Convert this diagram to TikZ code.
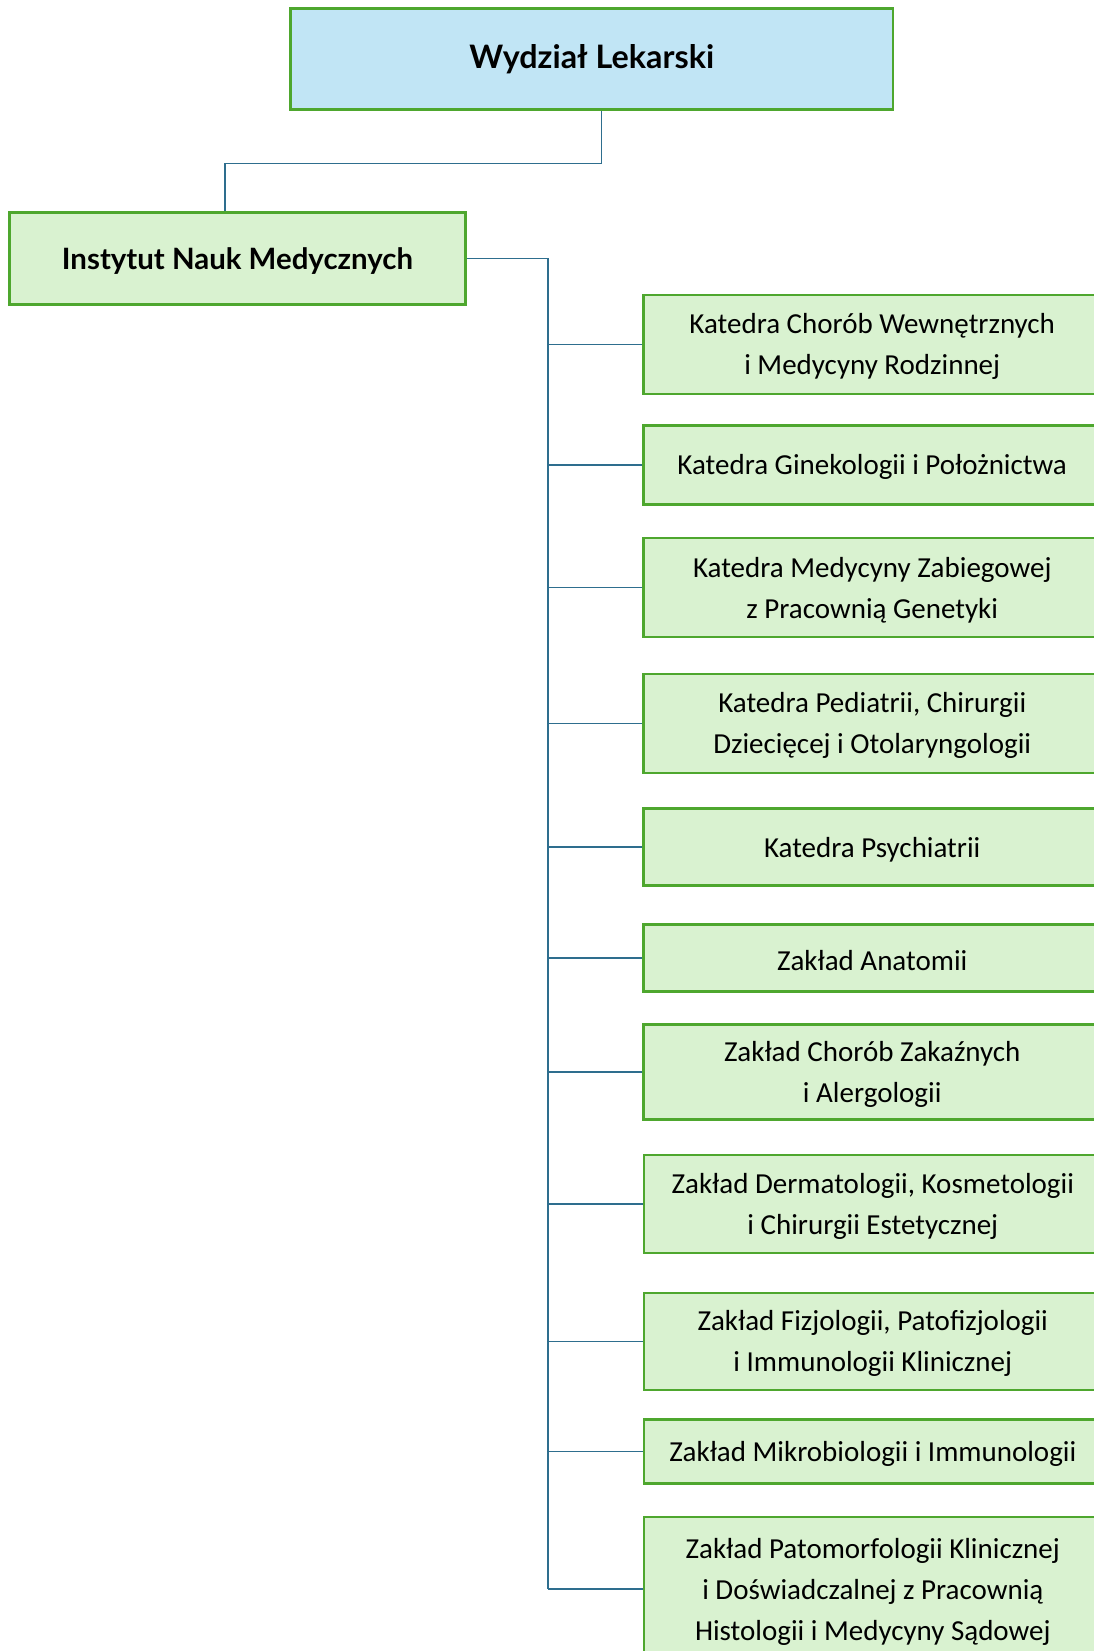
\documentclass[tikz,border=0pt]{standalone}
\usepackage{fontspec}
\setmainfont{Carlito}
\newfontfamily\headfont{Lato}
\definecolor{boxgreen}{HTML}{D9F2D0}
\definecolor{edgegreen}{HTML}{4EA72E}
\definecolor{headblue}{HTML}{C1E5F5}
\definecolor{connblue}{HTML}{2E6E8E}
\newcommand\orgunit[5]{%
  \node[unitbox, minimum height=#4pt] (#1) at (#2,#3) {};
  \node[unittext] (#1t) at ([yshift=-2.5pt]#1.center) {#5};}
\begin{document}
\begin{tikzpicture}[x=1pt,y=-1pt,
  unitbox/.style={draw=edgegreen, line width=2.5pt, fill=boxgreen, inner sep=0pt,
    minimum width=457.7pt},
  unittext/.style={align=center, inner sep=0pt, font=\fontsize{29}{41}\selectfont},
  headbox/.style={draw=edgegreen, line width=2.5pt, align=center, inner sep=0pt},
  conn/.style={draw=connblue, line width=1.4pt}]
\useasboundingbox (0,0) rectangle (1094,1651);
\node[headbox, fill=headblue, minimum width=602.3pt, minimum height=101pt,
  font=\headfont\bfseries\fontsize{32.3}{38}\selectfont] (fac) at (591.75,59) {Wydział Lekarski};
\node[headbox, fill=boxgreen, minimum width=456pt, minimum height=91.6pt] (inst) at (237.5,258.5) {};
\node[font=\headfont\bfseries\fontsize{29.4}{36}\selectfont, inner sep=0pt] (instt) at ([yshift=-3pt]inst.center) {Instytut Nauk Medycznych};
\orgunit{u1}{872.2}{344.3}{99}{Katedra Chorób Wewnętrznych\\i Medycyny Rodzinnej}
\orgunit{u2}{872.2}{464.9}{79}{Katedra Ginekologii i Położnictwa}
\orgunit{u3}{872.2}{587.5}{99}{Katedra Medycyny Zabiegowej\\z Pracownią Genetyki}
\orgunit{u4}{872.2}{723.4}{99}{Katedra Pediatrii, Chirurgii\\Dziecięcej i Otolaryngologii}
\orgunit{u5}{872.2}{847}{77}{Katedra Psychiatrii}
\orgunit{u6}{872.2}{958}{67}{Zakład Anatomii}
\orgunit{u7}{872.2}{1071.9}{95}{Zakład Chorób Zakaźnych\\i Alergologii}
\orgunit{u8}{872.8}{1204}{98}{Zakład Dermatologii, Kosmetologii\\i Chirurgii Estetycznej}
\orgunit{u9}{872.8}{1341.4}{97}{Zakład Fizjologii, Patofizjologii\\i Immunologii Klinicznej}
\orgunit{u10}{872.8}{1451.5}{64}{Zakład Mikrobiologii i Immunologii}
\orgunit{u11}{872.8}{1589}{144}{Zakład Patomorfologii Klinicznej\\i Doświadczalnej z Pracownią\\Histologii i Medycyny Sądowej}
\coordinate (trunk) at (548,1589);
\draw[conn] ([xshift=10pt]fac.south) -- ++(0,52.5) -| ([xshift=-12.5pt]inst.north);
\draw[conn] (inst.east) -| (trunk);
\foreach \u in {u1,u2,u3,u4,u5,u6,u7,u8,u9,u10,u11}
  \draw[conn] (\u.west) -- (\u.west -| trunk);
\end{tikzpicture}
\end{document}
